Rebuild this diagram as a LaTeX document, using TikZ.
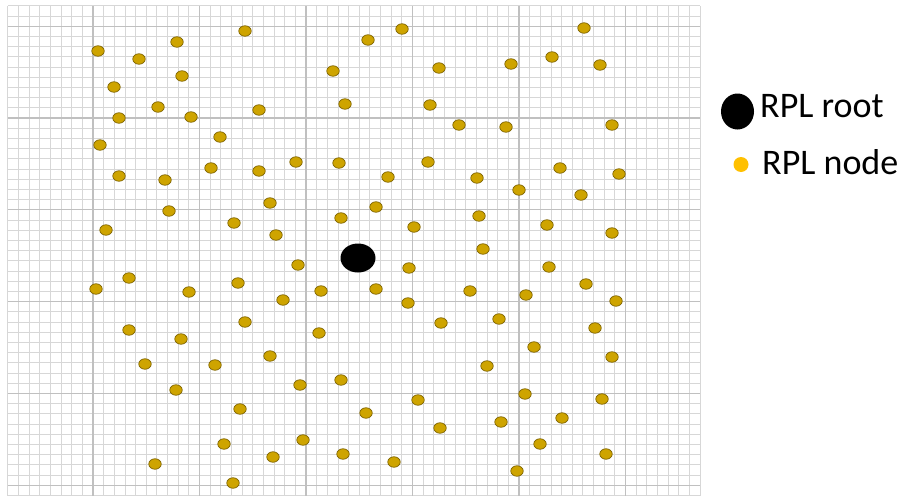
\documentclass[tikz,border=0pt]{standalone}
\usepackage{fontspec}
\setmainfont{Carlito}
\usetikzlibrary{shapes.geometric}
\definecolor{minorgrid}{RGB}{215,215,215}
\definecolor{majorgrid}{RGB}{192,192,192}
\definecolor{nodegold}{RGB}{206,164,0}
\definecolor{noderim}{RGB}{125,98,0}
\definecolor{legendgold}{RGB}{255,192,0}
\tikzset{
  rplnode/.style={ellipse, fill=nodegold, draw=noderim, line width=0.7pt, minimum width=12.5pt, minimum height=10.5pt, inner sep=0pt},
  rplroot/.style={ellipse, fill=black, minimum width=35pt, minimum height=29pt, inner sep=0pt},
  legtext/.style={anchor=base west, inner sep=0pt, font=\fontsize{36}{40}\selectfont},
}
\begin{document}
\begin{tikzpicture}[x=1pt,y=-1pt]
\useasboundingbox[fill=white] (0,0) rectangle (906,498);
% minor grid
\foreach \i in {0,...,65} {\draw[minorgrid, line width=0.9pt] (7.8+\i*10.65,6) -- (7.8+\i*10.65,496);}
\foreach \j in {0,...,48} {\draw[minorgrid, line width=0.9pt] (7.8,5.8+\j*10.2) -- (700,5.8+\j*10.2);}
% major grid
\foreach \i in {8,18,...,58} {\draw[majorgrid, line width=1.1pt] (7.8+\i*10.65,6) -- (7.8+\i*10.65,496);}
\foreach \j in {2,11,...,47} {\draw[majorgrid, line width=1.1pt] (7.8,5.8+\j*10.2) -- (700,5.8+\j*10.2);}
% RPL nodes
\foreach \x/\y [count=\k] in {
98/51, 139/59, 177/42, 245/31, 368/40, 402/29, 584/28, 333/71, 439/68, 511/64, 552/57, 600/65,
182/76, 114/87, 158/107, 119/118, 191/117, 259/110, 345/104, 430/105, 459/125, 506/127, 612/125,
220/137, 100/145, 119/176, 165/180, 211/168, 259/171, 296/162, 339/163, 388/177, 428/162, 477/178,
519/190, 560/168, 581/195, 619/174, 169/211, 270/203, 376/207, 341/218, 234/223, 414/227, 479/216,
547/225, 106/230, 276/235, 483/249, 612/233, 298/265, 409/268, 549/267, 129/278, 238/283, 96/289,
189/292, 321/291, 376/289, 283/300, 408/303, 470/291, 526/295, 586/284, 616/301, 129/330, 181/339,
245/322, 319/333, 441/323, 499/319, 595/328, 534/347, 145/364, 215/365, 270/356, 487/366, 612/357,
176/390, 300/385, 341/380, 240/409, 366/413, 418/400, 525/394, 602/399, 224/444, 303/440, 440/428,
501/422, 562/418, 540/444, 155/464, 273/457, 343/454, 394/462, 517/471, 606/454, 233/483}
{\node[rplnode] (n\k) at (\x,\y) {};}
% RPL root
\node[rplroot] (root) at (358,258) {};
% legend
\node[ellipse, fill=black, minimum width=33pt, minimum height=36pt, inner sep=0pt] (legroot) at (737.5,111.5) {};
\node[legtext] (legroottext) at (760,117) {RPL root};
\node[circle, fill=legendgold, minimum size=15pt, inner sep=0pt] (legnode) at (741,164.5) {};
\node[legtext] (legnodetext) at (762,174) {RPL node};
\end{tikzpicture}
\end{document}
